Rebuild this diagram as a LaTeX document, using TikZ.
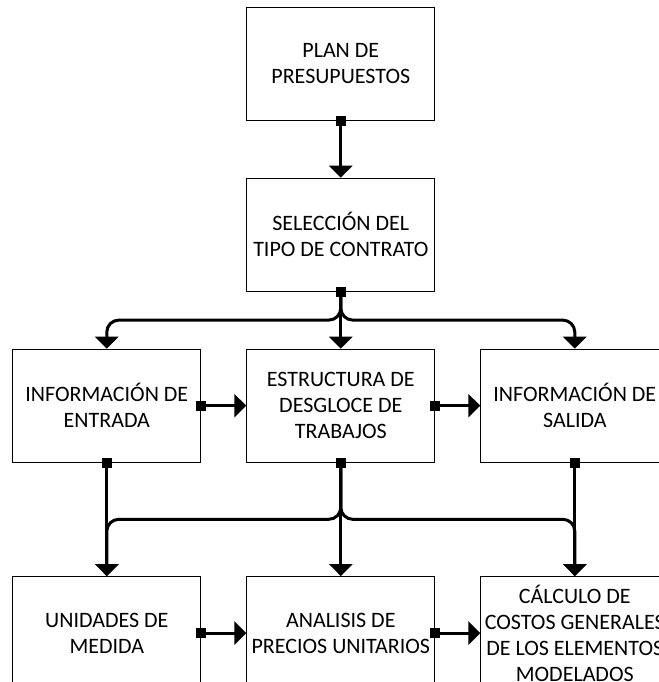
\documentclass[tikz,border=0pt]{standalone}
\usepackage{fontspec}
\setmainfont{Carlito}
\usetikzlibrary{positioning, arrows.meta}

\begin{document}
\begin{tikzpicture}[
  >={Triangle[length=6pt,width=11.5pt]}, node distance=22.5pt, font=\fontsize{11pt}{13pt}\selectfont,
  block/.style={draw, rectangle, line width=0.5pt, inner sep=0pt, minimum width=94pt, minimum height=56.5pt, align=center},
  arrow/.style={{Square[length=5pt,width=5pt]}->, line width=1.5pt, shorten <=-2.5pt},
  bus/.style={arrow, rounded corners=6pt}
]
\useasboundingbox (-170.4pt,31.85pt) rectangle (159.1pt,-309.15pt);
\clip (-170.4pt,31.85pt) rectangle (159.1pt,-309.15pt);

\node[block] (plan) {PLAN DE\\PRESUPUESTOS};
\node[block, below=28.5pt of plan] (seleccion) {SELECCIÓN DEL\\TIPO DE CONTRATO};
\node[block, below=28.5pt of seleccion] (edt) {ESTRUCTURA DE\\DESGLOCE DE\\TRABAJOS};
\node[block, left=of edt] (entrada) {INFORMACIÓN DE\\ENTRADA};
\node[block, right=of edt] (salida) {INFORMACIÓN DE\\SALIDA};
\node[block, below=56.7pt of edt] (apu) {ANALISIS DE\\PRECIOS UNITARIOS};
\node[block, below=56.7pt of entrada] (unidades) {UNIDADES DE\\MEDIDA};
\node[block, below=56.7pt of salida] (calculo) {CÁLCULO DE\\COSTOS GENERALES\\DE LOS ELEMENTOS\\MODELADOS};

\draw[arrow] (plan) -- (seleccion);
\draw[bus] (seleccion.south) -- ++(0,-14.2pt) -| (entrada.north);
\draw[bus] (seleccion.south) -- ++(0,-14.2pt) -| (salida.north);
\draw[arrow] (seleccion) -- (edt);

\draw[arrow] (entrada) -- (edt);
\draw[arrow] (edt) -- (salida);

\draw[bus] (edt.south) -- ++(0,-28.3pt) -| (unidades.north);
\draw[bus] (edt.south) -- ++(0,-28.3pt) -| (calculo.north);
\draw[arrow] (entrada) -- (unidades);
\draw[arrow] (edt) -- (apu);
\draw[arrow] (salida) -- (calculo);

\draw[arrow] (unidades) -- (apu);
\draw[arrow] (apu) -- (calculo);

\end{tikzpicture}
\end{document}
